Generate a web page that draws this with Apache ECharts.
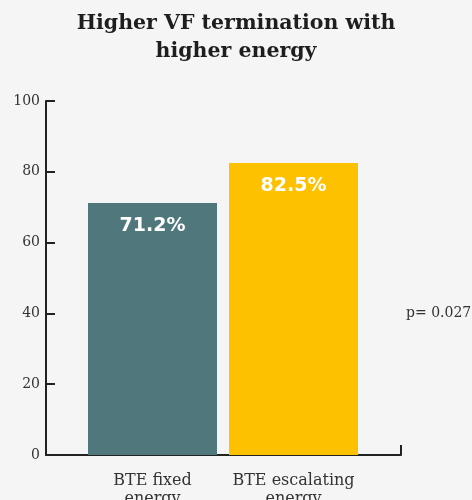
<!DOCTYPE html>
<html>
<head>
<meta charset="utf-8">
<script src="https://cdn.jsdelivr.net/npm/echarts@6/dist/echarts.min.js"></script>
<style>
  html, body { margin: 0; padding: 0; background: #f5f5f5; }
  #chart { width: 472px; height: 500px; }
</style>
</head>
<body>
<div id="chart"></div>
<script>
var categories = ['BTE fixed\nenergy', 'BTE escalating\nenergy'];
var values = [71.2, 82.5];
var barColors = ['#50787c', '#fdc100'];
var yTicks = [0, 20, 40, 60, 80, 100];
var pValueText = 'p= 0.027';

var serif = 'DejaVu Serif';
var chart = echarts.init(document.getElementById('chart'));

var barData = [];
for (var i = 0; i < values.length; i++) {
    barData.push({ value: values[i], itemStyle: { color: barColors[i] } });
}

var option = {
    backgroundColor: '#f5f5f5',
    animation: false,
    title: {
        text: 'Higher VF termination with\nhigher energy',
        left: 'center',
        top: 5,
        textStyle: {
            fontFamily: serif,
            fontWeight: 'bold',
            fontSize: 20.5,
            lineHeight: 28,
            color: '#1e1e1e'
        }
    },
    // grid 0: frame with y axis and long x axis line; grid 1: bars
    grid: [
        { left: 46, right: 71, top: 101, bottom: 45, outerBoundsMode: 'none' },
        { left: 82, right: 108, top: 101, bottom: 45, outerBoundsMode: 'none' }
    ],
    xAxis: [
        {
            gridIndex: 0,
            type: 'value',
            min: 0,
            max: 1,
            interval: 1,
            splitLine: { show: false },
            axisLabel: { show: false },
            axisLine: { show: true, lineStyle: { color: '#222', width: 2 } },
            axisTick: { show: true, inside: true, length: 10, lineStyle: { color: '#222', width: 2 } }
        },
        {
            gridIndex: 1,
            type: 'category',
            data: categories,
            axisLine: { show: false },
            axisTick: { show: false },
            axisLabel: {
                interval: 0,
                margin: 17,
                fontFamily: serif,
                fontSize: 16,
                lineHeight: 18,
                color: '#333'
            }
        }
    ],
    yAxis: [
        {
            gridIndex: 0,
            type: 'value',
            min: yTicks[0],
            max: yTicks[yTicks.length - 1],
            interval: 20,
            splitLine: { show: false },
            axisLine: { show: true, lineStyle: { color: '#222', width: 2 } },
            axisTick: { show: true, inside: true, length: 9, lineStyle: { color: '#222', width: 2 } },
            axisLabel: {
                margin: 6,
                fontFamily: serif,
                fontSize: 14,
                color: '#333'
            }
        },
        {
            gridIndex: 1,
            type: 'value',
            min: yTicks[0],
            max: yTicks[yTicks.length - 1],
            show: false
        }
    ],
    series: [{
        type: 'bar',
        xAxisIndex: 1,
        yAxisIndex: 1,
        data: barData,
        barWidth: 129,
        label: {
            show: true,
            position: 'insideTop',
            distance: 14,
            formatter: function (p) { return p.value.toFixed(1) + '%'; },
            color: '#fff',
            fontFamily: 'DejaVu Sans',
            fontWeight: 'bold',
            fontSize: 19
        }
    }],
    graphic: [{
        type: 'text',
        left: 406,
        top: 306,
        style: {
            text: pValueText,
            fontFamily: serif,
            fontSize: 14,
            fill: '#333'
        }
    }]
};

chart.setOption(option);
</script>
</body>
</html>
